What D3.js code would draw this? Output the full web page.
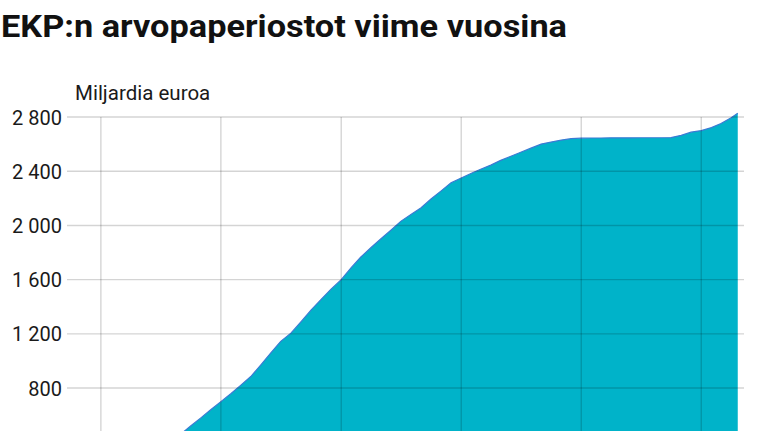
<!DOCTYPE html>
<html>

<head>
    <meta charset="utf-8">
    <style>
        body {
            margin: 0;
            background: #fff;
            font-family: Roboto, 'Noto Sans', sans-serif;
        }

        svg {
            display: block;
        }

        .title {
            font-family: Roboto, sans-serif;
            font-weight: 700;
            font-size: 32px;
            fill: #111;
        }

        .unit {
            font-family: Roboto, sans-serif;
            font-size: 20.5px;
            fill: #1a1a1a;
        }

        .y .tick text {
            font-family: Roboto, sans-serif;
            font-size: 20px;
            fill: #1a1a1a;
        }

        .domain {
            display: none;
        }

        .grid line {
            stroke: rgba(0, 0, 0, .17);
            stroke-width: 1.4;
        }
    </style>
</head>

<body>
    <svg width="767" height="431"></svg>
</body>

<script src="https://d3js.org/d3.v7.min.js"></script>

<script>
    // holdings in billions of euros (month starts)
    let dates = [
        "2015-03-01", "2015-04-01", "2015-05-01", "2015-06-01", "2015-07-01", "2015-08-01",
        "2015-09-01", "2015-10-01", "2015-11-01", "2015-12-01",
        "2016-01-01", "2016-02-01", "2016-03-01", "2016-04-01", "2016-05-01", "2016-06-01",
        "2016-07-01", "2016-08-01", "2016-09-01", "2016-10-01", "2016-11-01", "2016-12-01",
        "2017-01-01", "2017-02-01", "2017-03-01", "2017-04-01", "2017-05-01", "2017-06-01",
        "2017-07-01", "2017-08-01", "2017-09-01", "2017-10-01", "2017-11-01", "2017-12-01",
        "2018-01-01", "2018-02-01", "2018-03-01", "2018-04-01", "2018-05-01", "2018-06-01",
        "2018-07-01", "2018-08-01", "2018-09-01", "2018-10-01", "2018-11-01", "2018-12-01",
        "2019-01-01", "2019-02-01", "2019-03-01", "2019-04-01", "2019-05-01", "2019-06-01",
        "2019-07-01", "2019-08-01", "2019-09-01", "2019-10-01", "2019-11-01", "2019-12-01",
        "2020-01-01", "2020-02-01", "2020-03-01", "2020-04-01", "2020-04-21"
    ]
    let values = [
        100, 160, 220, 280, 340, 400,
        460, 520, 580, 640,
        700, 760, 820, 885, 970, 1060,
        1145, 1205, 1290, 1375, 1455, 1530,
        1600, 1690, 1765, 1835, 1900, 1965,
        2030, 2080, 2130, 2195, 2255, 2315,
        2350, 2385, 2415, 2445, 2480, 2510,
        2540, 2570, 2600, 2615, 2630, 2640,
        2644, 2645, 2645, 2646, 2646, 2646,
        2647, 2647, 2647, 2648, 2665, 2688,
        2700, 2722, 2752, 2795, 2828
    ]
    let yTicks = [800, 1200, 1600, 2000, 2400, 2800]
    let xTicks = ["2015-01-01", "2016-01-01", "2017-01-01", "2018-01-01", "2019-01-01", "2020-01-01"]

    let title = "EKP:n arvopaperiostot viime vuosina"
    let unit = "Miljardia euroa"

    let data = dates.map(function (d, i) {
        return { date: new Date(d), value: values[i] }
    })

    let svg = d3.select("svg")

    let margin = { left: 67, right: 23 }
    let width = 767

    let x = d3.scaleTime()
        .domain([new Date("2014-09-20"), new Date("2020-05-10")])
        .range([margin.left, width - margin.right])

    // the chart is cut off at the bottom of the window, zero sits below it
    let y = d3.scaleLinear()
        .domain([0, 2800])
        .range([496.5, 117])

    svg.append("text")
        .attr("class", "title")
        .attr("x", 1)
        .attr("y", 37)
        .attr("textLength", 566)
        .attr("lengthAdjust", "spacingAndGlyphs")
        .text(title)

    svg.append("text")
        .attr("class", "unit")
        .attr("x", 75)
        .attr("y", 100)
        .text(unit)

    let area = d3.area()
        .x(function (d) { return x(d.date) })
        .y0(y(0))
        .y1(function (d) { return y(d.value) })

    let line = d3.line()
        .x(function (d) { return x(d.date) })
        .y(function (d) { return y(d.value) })

    svg.append("path")
        .datum(data)
        .attr("d", area)
        .style("fill", "#00b3c9")

    svg.append("path")
        .datum(data)
        .attr("d", line)
        .style("fill", "none")
        .style("stroke", "#3b7bd4")
        .style("stroke-width", 1.2)

    // grid goes over the area, semi transparent
    let grid = svg.append("g").attr("class", "grid")

    grid.selectAll(".hline")
        .data(yTicks)
        .join("line")
        .attr("class", "hline")
        .attr("x1", x.range()[0])
        .attr("x2", x.range()[1])
        .attr("y1", function (d) { return y(d) })
        .attr("y2", function (d) { return y(d) })

    grid.selectAll(".vline")
        .data(xTicks)
        .join("line")
        .attr("class", "vline")
        .attr("x1", function (d) { return x(new Date(d)) })
        .attr("x2", function (d) { return x(new Date(d)) })
        .attr("y1", y(2800))
        .attr("y2", y(0))

    let yAxis = d3.axisLeft(y)
        .tickValues(yTicks)
        .tickSize(0)
        .tickPadding(5)
        .tickFormat(function (d) { return d3.format(",")(d).replace(",", " ") })

    svg.append("g")
        .attr("class", "y axis")
        .attr("transform", `translate(${margin.left},0)`)
        .call(yAxis)
        .selectAll("text")
        .attr("dy", "0.35em")
</script>

</html>
